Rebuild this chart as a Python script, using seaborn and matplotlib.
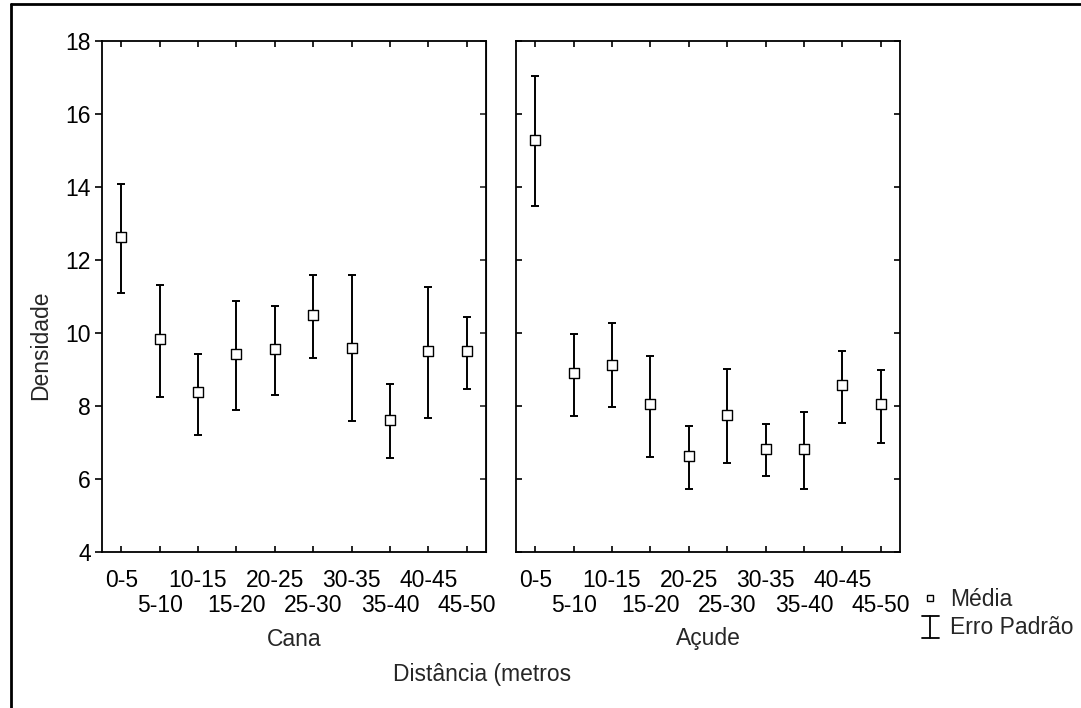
import matplotlib
matplotlib.use("Agg")
import matplotlib.pyplot as plt
from matplotlib.lines import Line2D
import seaborn as sns
import pandas as pd
import numpy as np

# ---- data ----
categories = ["0-5", "5-10", "10-15", "15-20", "20-25",
              "25-30", "30-35", "35-40", "40-45", "45-50"]
cana_mean = [12.63, 9.84, 8.37, 9.42, 9.55, 10.50, 9.60, 7.62, 9.51, 9.51]
cana_upper = [14.09, 11.32, 9.43, 10.88, 10.74, 11.59, 11.60, 8.60, 11.25, 10.44]
cana_lower = [11.09, 8.26, 7.21, 7.89, 8.30, 9.32, 7.58, 6.58, 7.67, 8.47]
acude_mean = [15.29, 8.90, 9.13, 8.05, 6.62, 7.76, 6.81, 6.81, 8.57, 8.05]
acude_upper = [17.03, 9.97, 10.27, 9.38, 7.45, 9.01, 7.51, 7.84, 9.51, 8.98]
acude_lower = [13.48, 7.73, 7.97, 6.59, 5.72, 6.44, 6.07, 5.73, 7.53, 6.99]
panel_names = ["Cana", "Açude"]
yticks = [4, 6, 8, 10, 12, 14, 16, 18]

sns.set_style("white")
plt.rcParams["font.family"] = ["Liberation Sans", "DejaVu Sans"]
FS = 16.5

W, H = 1081, 708
fig = plt.figure(figsize=(W / 100, H / 100), dpi=100)

def fx(px):
    return px / W

def fy(py):
    return 1 - py / H

panels = [
    (102, cana_mean, cana_upper, cana_lower, panel_names[0]),
    (516, acude_mean, acude_upper, acude_lower, panel_names[1]),
]
ax_top, ax_bot, ax_w = 41, 552, 384

for i, (left, mean, up, lo, name) in enumerate(panels):
    ax = fig.add_axes([fx(left), fy(ax_bot), fx(ax_w), (ax_bot - ax_top) / H])
    df = pd.DataFrame({"cat": categories, "mean": mean})
    pos = np.arange(len(categories))
    mean_a = np.array(mean)
    err = [mean_a - np.array(lo), np.array(up) - mean_a]
    ax.errorbar(pos, mean_a, yerr=err, fmt="none", ecolor="black",
                elinewidth=1.4, capsize=3, capthick=1.4, zorder=2)
    sns.scatterplot(data=df, x="cat", y="mean", marker="s", s=45,
                    facecolor="white", edgecolor="black", linewidth=1.0,
                    ax=ax, zorder=3, legend=False)
    ax.set_xlim(-0.5, len(categories) - 0.5)
    ax.set_ylim(4, 18)
    ax.set_yticks(yticks)
    ax.set_xticks(pos[0::2])
    ax.set_xticklabels(categories[0::2], fontsize=FS)
    ax.set_xticks(pos[1::2], minor=True)
    ax.set_xticklabels(categories[1::2], minor=True, fontsize=FS)
    ax.set_xlabel("")
    ax.set_ylabel("")
    for s in ax.spines.values():
        s.set_visible(True)
        s.set_color("black")
        s.set_linewidth(1.3)
    ax.tick_params(axis="x", which="major", direction="in", length=4, width=1.2,
                   top=True, bottom=True, pad=12.5, colors="black")
    ax.tick_params(axis="x", which="minor", direction="in", length=4, width=1.2,
                   top=True, bottom=True, pad=30, colors="black")
    if i == 0:
        ax.tick_params(axis="y", direction="out", length=5, width=1.2, left=True,
                       right=False, labelsize=FS, pad=3, colors="black")
        ax2 = ax.secondary_yaxis("right")
        ax2.set_yticks(yticks)
        ax2.tick_params(direction="in", length=4, width=1.2, labelright=False)
    else:
        ax.tick_params(axis="y", direction="in", length=4, width=1.2, left=True,
                       right=True, labelleft=False, colors="black")
    fig.text(fx(left + ax_w / 2), fy(639), name, ha="center", va="center", fontsize=FS)

# axis titles
fig.text(fx(41), fy(345), "Densidade", rotation=90, ha="center", va="center", fontsize=FS)
fig.text(fx(393), fy(675), "Distância (metros", ha="left", va="center", fontsize=FS)

# legend
fig.add_artist(Line2D([fx(930)], [fy(598)], marker="s", ms=5, mfc="white",
                      mec="black", mew=1.0, ls="none", transform=fig.transFigure))
fig.text(fx(950), fy(599), "Média", ha="left", va="center", fontsize=FS)
fig.add_artist(Line2D([fx(930), fx(930)], [fy(616), fy(638)], color="black", lw=1.3,
                      transform=fig.transFigure))
fig.add_artist(Line2D([fx(922), fx(939)], [fy(616), fy(616)], color="black", lw=1.3,
                      transform=fig.transFigure))
fig.add_artist(Line2D([fx(922), fx(939)], [fy(638), fy(638)], color="black", lw=1.3,
                      transform=fig.transFigure))
fig.text(fx(950), fy(627), "Erro Padrão", ha="left", va="center", fontsize=FS)

# frame lines of the cropped page
fig.add_artist(Line2D([fx(11), 1.0], [fy(3.5), fy(3.5)], color="black", lw=2,
                      transform=fig.transFigure))
fig.add_artist(Line2D([fx(11), fx(11)], [fy(3.5), 0.0], color="black", lw=2,
                      transform=fig.transFigure))

fig.savefig("out.png", dpi=100)
